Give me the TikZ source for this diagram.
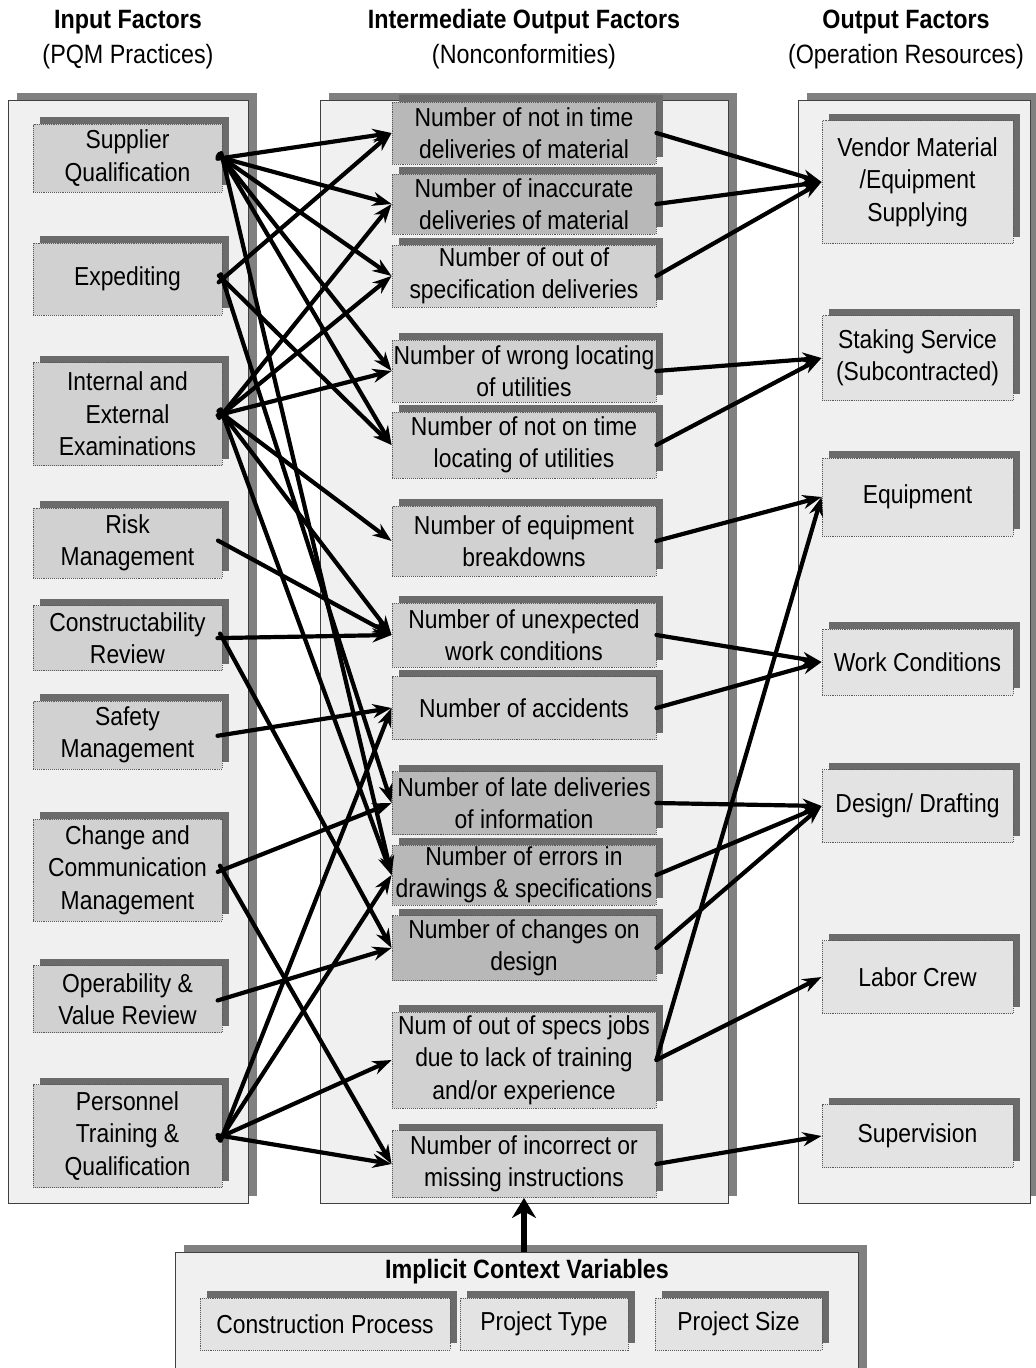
\documentclass[tikz,border=0pt]{standalone}
\usepackage{fontspec}
\setmainfont{Liberation Sans}[FakeStretch=0.88]
\usetikzlibrary{shadows,arrows.meta}
\begin{document}
\begin{tikzpicture}[x=1pt,y=-1pt,
  txt/.style={font=\fontsize{26}{32.5}\selectfont, align=center},
  hdr/.style={font=\fontsize{26.5}{32}\selectfont, align=center, inner sep=0pt},
  panel/.style={draw=black!75, line width=0.8pt, fill=black!6,
    general shadow={shadow xshift=9pt, shadow yshift=7pt, fill=black!50}},
  card/.style={txt, draw=black!65, densely dotted, line width=0.9pt, inner sep=0pt, fill=black!18,
    general shadow={shadow xshift=7pt, shadow yshift=7pt, fill=black!58}},
  dark/.style={fill=black!28},
  light/.style={fill=black!11},
  lcard/.style={card, minimum width=189},
  mcard/.style={card, minimum width=264},
  rcard/.style={card, light, minimum width=191},
  link/.style={line width=4.2pt, line cap=round, -{Stealth[length=19pt,width=14pt]}},
  fromleft/.style={link, shorten <=-5pt},
  bigarrow/.style={line width=5.5pt, -{Stealth[length=20pt,width=24pt]}}
]
\useasboundingbox (0,0) rectangle (1036,1368);

% column headings
\node[hdr] (h1) at (128,22) {\textbf{Input Factors}};
\node[hdr] (h1s) at (128,57) {(PQM Practices)};
\node[hdr] (h2) at (524,22) {\textbf{Intermediate Output Factors}};
\node[hdr] (h2s) at (524,57) {(Nonconformities)};
\node[hdr] (h3) at (906,22) {\textbf{Output Factors}};
\node[hdr] (h3s) at (906,57) {(Operation Resources)};

% column panels
\node[panel, minimum width=240, minimum height=1103] (lp) at (128,651.5) {};
\node[panel, minimum width=408, minimum height=1103] (mp) at (524,651.5) {};
\node[panel, minimum width=232, minimum height=1103] (rp) at (914,651.5) {};
\node[panel, minimum width=683, minimum height=140] (ctx) at (516.5,1322) {};

% input factors
\node[lcard, minimum height=68]  (sq) at (127.5,158)  {Supplier\\Qualification};
\node[lcard, minimum height=72]  (ex) at (127.5,279)  {Expediting};
\node[lcard, minimum height=103] (ie) at (127.5,414)  {Internal and\\External\\Examinations};
\node[lcard, minimum height=70]  (rm) at (127.5,543)  {Risk\\Management};
\node[lcard, minimum height=65]  (cr) at (127.5,638)  {Constructability\\Review};
\node[lcard, minimum height=68]  (sm) at (127.5,735)  {Safety\\Management};
\node[lcard, minimum height=102] (cc) at (127.5,870)  {Change and\\Communication\\Management};
\node[lcard, minimum height=67]  (ov) at (127.5,999)  {Operability \&\\Value Review};
\node[lcard, minimum height=103] (pt) at (127.5,1136) {Personnel\\Training \&\\Qualification};

% nonconformities
\node[mcard, dark, minimum height=62] (m1)  at (524,133)  {Number of not in time\\deliveries of material};
\node[mcard, dark, minimum height=60] (m2)  at (524,204)  {Number of inaccurate\\deliveries of material};
\node[mcard, minimum height=62] (m3)  at (524,276)  {Number of out of\\specification deliveries};
\node[mcard, minimum height=62] (m4)  at (524,371)  {Number of wrong locating\\of utilities};
\node[mcard, minimum height=66] (m5)  at (524,445)  {Number of not on time\\locating of utilities};
\node[mcard, minimum height=70] (m6)  at (524,541)  {Number of equipment\\breakdowns};
\node[mcard, minimum height=64] (m7)  at (524,635)  {Number of unexpected\\work conditions};
\node[mcard, minimum height=63] (m8)  at (524,708)  {Number of accidents};
\node[mcard, dark, minimum height=63] (m9)  at (524,803)  {Number of late deliveries\\of information};
\node[mcard, dark, minimum height=60] (m10) at (524,875)  {Number of errors in\\drawings \& specifications};
\node[mcard, dark, minimum height=65] (m11) at (524,948)  {Number of changes on\\design};
\node[mcard, minimum height=96] (m12) at (524,1060) {Num of out of specs jobs\\due to lack of training\\and/or experience};
\node[mcard, minimum height=67] (m13) at (524,1164) {Number of incorrect or\\missing instructions};

% operation resources
\node[rcard, minimum height=123] (r1) at (917.5,182)  {Vendor Material\\/Equipment\\Supplying};
\node[rcard, minimum height=85]  (r2) at (917.5,358)  {Staking Service\\(Subcontracted)};
\node[rcard, minimum height=78]  (r3) at (917.5,497)  {Equipment};
\node[rcard, minimum height=66]  (r4) at (917.5,662)  {Work Conditions};
\node[rcard, minimum height=73]  (r5) at (917.5,806)  {Design/ Drafting};
\node[rcard, minimum height=73]  (r6) at (917.5,977)  {Labor Crew};
\node[rcard, minimum height=63]  (r7) at (917.5,1136) {Supervision};

% implicit context variables
\node[hdr] (ctxt) at (527,1272) {\textbf{Implicit Context Variables}};
\node[card, light, minimum width=250, minimum height=52] (cp) at (325,1324) {Construction Process};
\node[card, light, minimum width=168, minimum height=52] (ptype) at (544,1324) {Project Type};
\node[card, light, minimum width=167, minimum height=52] (psize) at (738.5,1324) {Project Size};

% practices -> nonconformities
\foreach \s/\t in {sq/m1, sq/m2, sq/m3, sq/m4, sq/m5, sq/m10,
                   ex/m1, ex/m5, ex/m9,
                   ie/m2, ie/m3, ie/m4, ie/m6, ie/m7, ie/m10,
                   rm/m7, cr/m7, cr/m11, sm/m8,
                   cc/m9, cc/m13, ov/m11,
                   pt/m8, pt/m10, pt/m12, pt/m13}
  \draw[fromleft] (\s.east) -- (\t.west);

% nonconformities -> operation resources
\foreach \s/\t in {m1/r1, m2/r1, m3/r1, m4/r2, m5/r2, m6/r3, m12/r3,
                   m7/r4, m8/r4, m9/r5, m10/r5, m11/r5, m12/r6, m13/r7}
  \draw[link] (\s.east) -- (\t.west);

% context variables act on the nonconformities
\draw[bigarrow] (ctx.north -| m13.south) -- (m13.south);
\end{tikzpicture}
\end{document}
